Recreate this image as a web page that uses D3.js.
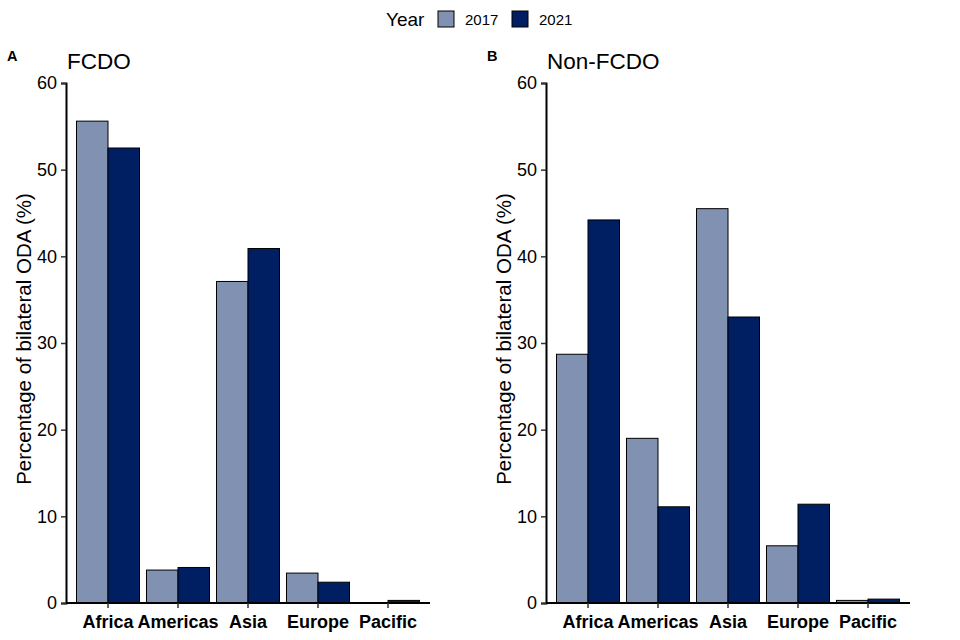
<!DOCTYPE html>
<html>
<head>
<meta charset="utf-8">
<script src="https://cdn.jsdelivr.net/npm/d3@7"></script>
<style>
  body { margin: 0; background: #fff; }
  svg { font-family: "Liberation Sans", Arial, sans-serif; }
</style>
</head>
<body>
<div id="chart"></div>
<script>
// regions and years
var regions = ["Africa", "Americas", "Asia", "Europe", "Pacific"];
var years = ["2017", "2021"];
var yTicks = [0, 10, 20, 30, 40, 50, 60];

// share of bilateral ODA (%)
var fcdo2017 = [55.6, 3.8, 37.1, 3.45, 0];
var fcdo2021 = [52.5, 4.1, 40.9, 2.4, 0.3];
var nonFcdo2017 = [28.7, 19.0, 45.5, 6.6, 0.3];
var nonFcdo2021 = [44.2, 11.1, 33.0, 11.4, 0.45];

var colors = { "2017": "#8091b2", "2021": "#001f63" };

var svg = d3.select("#chart").append("svg")
    .attr("width", 960).attr("height", 640);

var y = d3.scaleLinear().domain([0, 60]).range([603, 83]);

function drawPanel(left, tag, title, v2017, v2021) {
    var x = d3.scaleBand().domain(regions)
        .range([left, left + 364]).paddingInner(0.1).paddingOuter(0.15);
    var xs = d3.scaleBand().domain(years).range([0, x.bandwidth()]);
    var g = svg.append("g");

    var rows = regions.map(function(r, i) {
        return { region: r, vals: [
            { year: "2017", v: v2017[i] },
            { year: "2021", v: v2021[i] }
        ]};
    });

    g.selectAll(".grp").data(rows).enter().append("g")
        .attr("transform", function(d) { return "translate(" + x(d.region) + ",0)"; })
        .selectAll("rect").data(function(d) { return d.vals.filter(function(e) { return e.v > 0; }); })
        .enter().append("rect")
        .attr("x", function(d) { return xs(d.year); })
        .attr("y", function(d) { return y(d.v); })
        .attr("width", xs.bandwidth())
        .attr("height", function(d) { return y(0) - y(d.v); })
        .attr("fill", function(d) { return colors[d.year]; })
        .attr("stroke", "#000")
        .attr("stroke-width", 1);

    // y axis
    var ya = g.append("g").attr("transform", "translate(" + left + ",0)")
        .call(d3.axisLeft(y).tickValues(yTicks).tickSize(5).tickPadding(4));
    ya.select(".domain").attr("stroke", "#000").attr("stroke-width", 2);
    ya.selectAll(".tick line").attr("stroke", "#333").attr("stroke-width", 1.5);
    ya.selectAll(".tick text").attr("font-size", 18).attr("fill", "#000")
        .attr("font-family", "Liberation Sans, Arial, sans-serif");

    // x axis
    var xa = g.append("g").attr("transform", "translate(0,603)")
        .call(d3.axisBottom(x).tickSize(5).tickSizeOuter(0).tickPadding(7));
    xa.select(".domain").attr("stroke", "#000").attr("stroke-width", 2)
        .attr("d", "M" + left + ",0H" + (left + 364));
    xa.selectAll(".tick line").attr("stroke", "#333").attr("stroke-width", 1.5);
    xa.selectAll(".tick text").attr("font-size", 18).attr("font-weight", "bold")
        .attr("fill", "#000").attr("font-family", "Liberation Sans, Arial, sans-serif");

    // y title
    svg.append("text")
        .attr("transform", "translate(" + (left - 35) + ",339) rotate(-90)")
        .attr("text-anchor", "middle")
        .attr("font-size", 20.5)
        .text("Percentage of bilateral ODA (%)");

    // panel title + tag
    svg.append("text").attr("x", left + 1).attr("y", 69)
        .attr("font-size", 22.5).text(title);
    svg.append("text").attr("x", left - 59).attr("y", 61)
        .attr("font-size", 14.5).attr("font-weight", "bold").text(tag);
}

drawPanel(66, "A", "FCDO", fcdo2017, fcdo2021);
drawPanel(546, "B", "Non-FCDO", nonFcdo2017, nonFcdo2021);

// legend
var lg = svg.append("g");
lg.append("text").attr("x", 386).attr("y", 26).attr("font-size", 19).text("Year");
var lx = [438, 512];
years.forEach(function(yr, i) {
    lg.append("rect").attr("x", lx[i]).attr("y", 11).attr("width", 16).attr("height", 16)
        .attr("fill", colors[yr]).attr("stroke", "#000").attr("stroke-width", 1);
    lg.append("text").attr("x", lx[i] + 27).attr("y", 25).attr("font-size", 15).text(yr);
});
</script>
</body>
</html>
